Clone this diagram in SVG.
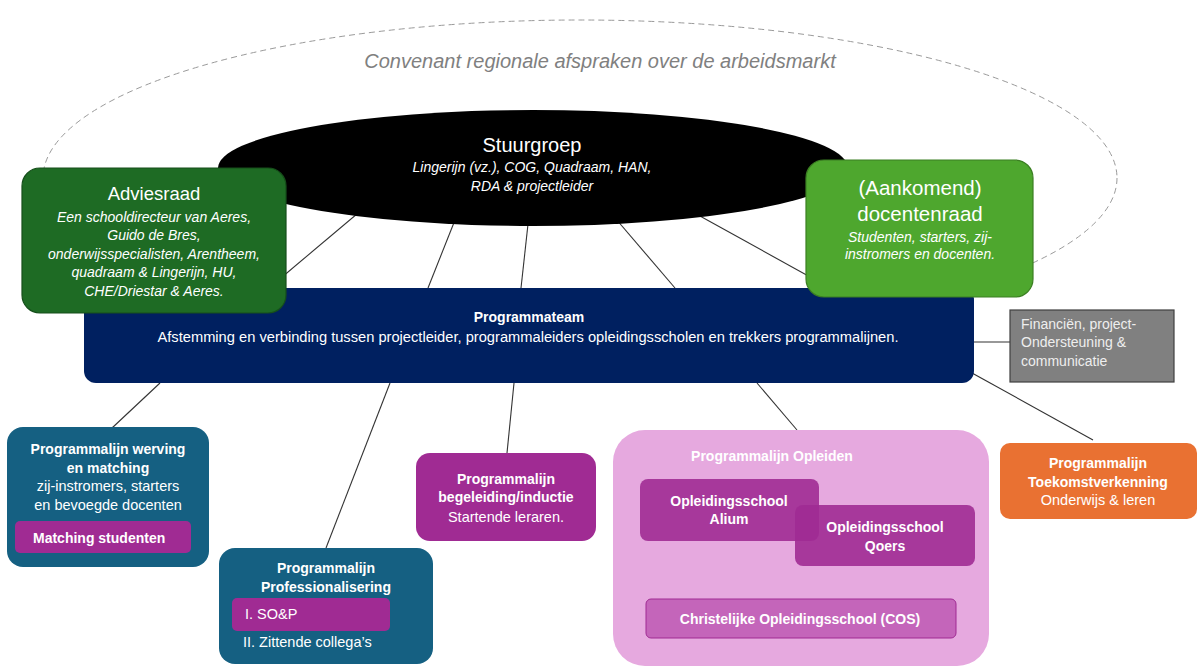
<svg xmlns="http://www.w3.org/2000/svg" width="1198" height="668" viewBox="0 0 1198 668">
<style>
text{font-family:"Liberation Sans",Arial,sans-serif;fill:#fff}
.c{text-anchor:middle}
.b{font-weight:bold;font-size:14px}
.r{font-size:14.5px}
.i{font-style:italic;font-size:14px}
.t{font-size:20px}
.con{stroke:#333;stroke-width:1.1;fill:none}
.teal{fill:#156082}
.mag{fill:#A02B93}
</style>
<rect width="1198" height="668" fill="#fff"/>
<ellipse cx="580" cy="178" rx="537" ry="158" fill="none" stroke="#9a9a9a" stroke-width="1" stroke-dasharray="6 4"/>
<text x="600" y="68" class="c" style="font-style:italic;font-size:20px;fill:#808080">Convenant regionale afspraken over de arbeidsmarkt</text>
<g id="connectors">
<line class="con" x1="370" y1="203" x2="269" y2="288"/>
<line class="con" x1="457" y1="215" x2="428" y2="288"/>
<line class="con" x1="529" y1="215" x2="521" y2="288"/>
<line class="con" x1="610" y1="212" x2="675" y2="288"/>
<line class="con" x1="680" y1="205" x2="830" y2="288"/>
<line class="con" x1="160" y1="383" x2="112" y2="428"/>
<line class="con" x1="390" y1="383" x2="326" y2="548"/>
<line class="con" x1="514" y1="383" x2="507" y2="453"/>
<line class="con" x1="757" y1="383" x2="797" y2="430"/>
<line class="con" x1="972" y1="373" x2="1093" y2="440"/>
<line class="con" x1="973" y1="342" x2="1010" y2="342"/>
</g>
<g id="stuurgroep">
<ellipse cx="533" cy="168" rx="315" ry="58" fill="#000"/>
<text x="532" y="152" class="c t">Stuurgroep</text>
<text x="532" y="172" class="c i">Lingerijn (vz.), COG, Quadraam, HAN,</text>
<text x="532" y="191" class="c i">RDA &amp; projectleider</text>
</g>
<g id="programmateam">
<rect x="84" y="288" width="890" height="95" rx="12" fill="#002060"/>
<text x="529" y="322" class="c b">Programmateam</text>
<text x="528" y="342" class="c" style="font-size:14px" textLength="741" lengthAdjust="spacingAndGlyphs">Afstemming en verbinding tussen projectleider, programmaleiders opleidingsscholen en trekkers programmalijnen.</text>
</g>
<g id="adviesraad">
<rect x="22" y="168" width="264" height="145" rx="18" fill="#1E6B24" stroke="#164f1b" stroke-width="1.2"/>
<text x="154" y="200" class="c" style="font-size:18.5px">Adviesraad</text>
<text x="154" y="222" class="c i">Een schooldirecteur van Aeres,</text>
<text x="154" y="240" class="c i">Guido de Bres,</text>
<text x="154" y="259" class="c i">onderwijsspecialisten, Arentheem,</text>
<text x="154" y="277" class="c i">quadraam &amp; Lingerijn, HU,</text>
<text x="154" y="296" class="c i">CHE/Driestar &amp; Aeres.</text>
</g>
<g id="docentenraad">
<rect x="806" y="160" width="227" height="137" rx="18" fill="#4EA72E" stroke="#3b7f22" stroke-width="1.2"/>
<text x="920" y="195" class="c" style="font-size:20.5px">(Aankomend)</text>
<text x="920" y="221" class="c" style="font-size:20.5px">docentenraad</text>
<text x="920" y="242" class="c i">Studenten, starters, zij-</text>
<text x="920" y="259" class="c i">instromers en docenten.</text>
</g>
<g id="financien">
<rect x="1010" y="310" width="164" height="72" fill="#808080" stroke="#404040" stroke-width="1.2"/>
<text x="1021" y="329" style="font-size:14px;fill:#eee">Financiën, project-</text>
<text x="1021" y="347" style="font-size:14px;fill:#eee">Ondersteuning &amp;</text>
<text x="1021" y="366" style="font-size:14px;fill:#eee">communicatie</text>
</g>
<g id="toekomst">
<rect x="1000" y="443" width="197" height="76" rx="10" fill="#E97132"/>
<text x="1098" y="468" class="c b">Programmalijn</text>
<text x="1098" y="487" class="c b">Toekomstverkenning</text>
<text x="1098" y="505" class="c r">Onderwijs &amp; leren</text>
</g>
<g id="werving">
<rect x="7" y="427" width="202" height="140" rx="16" class="teal"/>
<text x="108" y="454" class="c b">Programmalijn werving</text>
<text x="108" y="473" class="c b">en matching</text>
<text x="108" y="491" class="c r">zij-instromers, starters</text>
<text x="108" y="510" class="c r">en bevoegde docenten</text>
<g id="matching">
<rect x="15" y="521" width="176" height="32" rx="5" class="mag"/>
<text x="33" y="543" class="b">Matching studenten</text>
</g>
</g>
<g id="professionalisering">
<rect x="219" y="548" width="214" height="116" rx="16" class="teal"/>
<text x="326" y="573" class="c b">Programmalijn</text>
<text x="326" y="592" class="c b">Professionalisering</text>
<g id="sop">
<rect x="232" y="598" width="158" height="33" rx="5" class="mag"/>
<text x="245" y="619" class="r">I. SO&amp;P</text>
</g>
<text x="243" y="647" class="r">II. Zittende collega’s</text>
</g>
<g id="begeleiding">
<rect x="416" y="453" width="180" height="88" rx="14" class="mag"/>
<text x="506" y="484" class="c b">Programmalijn</text>
<text x="506" y="502" class="c b">begeleiding/inductie</text>
<text x="506" y="522" class="c r">Startende leraren.</text>
</g>
<g id="opleiden">
<rect x="613" y="430" width="376" height="236" rx="32" fill="#E6A9DF"/>
<text x="772" y="461" class="c b">Programmalijn Opleiden</text>
<g id="alium">
<rect x="640" y="479" width="179" height="62" rx="8" fill="#A02B93" fill-opacity="0.9"/>
<text x="729" y="506" class="c b">Opleidingsschool</text>
<text x="729" y="524" class="c b">Alium</text>
</g>
<g id="qoers">
<rect x="795" y="505" width="180" height="61" rx="8" fill="#A02B93" fill-opacity="0.9"/>
<text x="885" y="532" class="c b">Opleidingsschool</text>
<text x="885" y="551" class="c b">Qoers</text>
</g>
<g id="cos">
<rect x="646" y="599" width="310" height="39" rx="5" fill="#C465BA" stroke="#A02B93" stroke-width="1"/>
<text x="800" y="624" class="c b">Christelijke Opleidingsschool (COS)</text>
</g>
</g>
</svg>
